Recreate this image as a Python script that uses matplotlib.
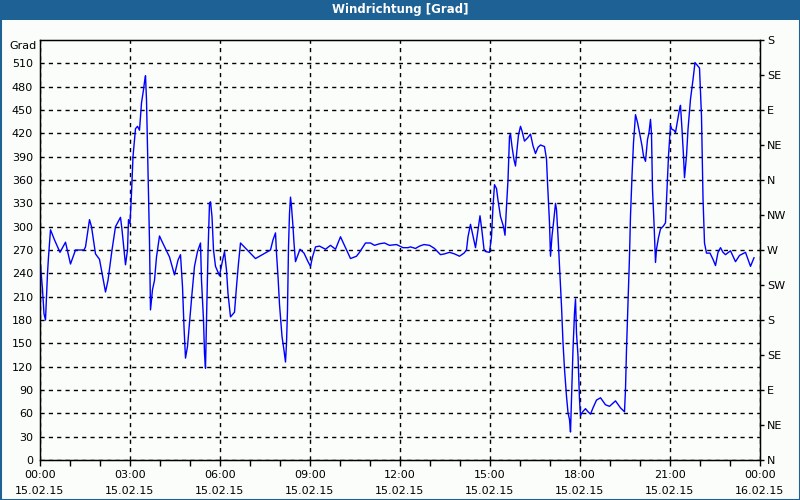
import matplotlib
matplotlib.use("Agg")
import matplotlib.pyplot as plt
from matplotlib.patches import Rectangle
import numpy as np

# time in minutes after 00:00 on 15.02.15, wind direction in degrees
minutes = [1, 5, 8, 11, 15, 17, 21, 29, 40, 51, 61, 71, 88, 91, 99, 103, 111, 119, 131, 136,
           144, 151, 161, 164, 168, 171, 175, 177, 180, 183, 186, 191, 195, 199, 203, 207, 209,
           211, 213, 215, 217, 219, 221, 225, 229, 233, 239, 244, 253, 259, 269, 276, 281, 285,
           288, 291, 295, 299, 304, 309, 315, 321, 323, 327, 329, 331, 333, 336, 339, 341, 344,
           347, 351, 359, 364, 369, 373, 376, 381, 389, 393, 397, 401, 431, 461, 466, 471, 473,
           476, 479, 484, 488, 491, 493, 495, 497, 499, 501, 503, 506, 508, 511, 516, 520, 528,
           536, 541, 545, 551, 559, 571, 581, 591, 601, 613, 621, 633, 639, 651, 661, 669, 679,
           689, 699, 713, 726, 736, 741, 751, 759, 768, 779, 789, 801, 809, 819, 829, 839, 848,
           853, 856, 861, 865, 871, 876, 880, 884, 888, 891, 899, 903, 906, 909, 913, 916, 921,
           927, 930, 933, 936, 939, 941, 944, 948, 951, 954, 957, 961, 964, 969, 975, 981, 986,
           991, 996, 1001, 1009, 1013, 1015, 1017, 1019, 1021, 1024, 1027, 1031, 1033, 1036,
           1039, 1043, 1046, 1049, 1053, 1056, 1059, 1061, 1064, 1066, 1069, 1071, 1073, 1076,
           1079, 1081, 1084, 1091, 1096, 1101, 1106, 1113, 1121, 1131, 1139, 1151, 1161, 1169,
           1171, 1173, 1176, 1179, 1181, 1184, 1187, 1191, 1195, 1199, 1204, 1207, 1211, 1215,
           1218, 1221, 1223, 1225, 1228, 1231, 1233, 1237, 1241, 1247, 1251, 1254, 1257, 1261,
           1264, 1268, 1271, 1275, 1279, 1281, 1284, 1287, 1289, 1293, 1296, 1301, 1306, 1310,
           1315, 1319, 1323, 1326, 1329, 1333, 1340, 1346, 1351, 1356, 1361, 1366, 1371, 1381,
           1391, 1399, 1411, 1421, 1428]
degrees = [251, 219, 188, 180, 240, 261, 296, 283, 267, 280, 252, 270, 270, 274, 309, 300, 265,
           258, 216, 231, 270, 300, 312, 296, 270, 251, 270, 309, 304, 343, 390, 426, 429, 424,
           459, 476, 486, 494, 463, 403, 343, 281, 193, 219, 231, 261, 288, 281, 269, 261, 238,
           257, 264, 223, 171, 131, 146, 176, 214, 249, 268, 279, 231, 180, 137, 118, 180, 266,
           330, 332, 313, 270, 249, 237, 253, 268, 244, 214, 184, 190, 223, 253, 279, 259, 270,
           283, 292, 266, 236, 200, 159, 141, 126, 150, 193, 274, 317, 338, 326, 300, 279, 255,
           264, 271, 266, 255, 249, 261, 274, 275, 271, 276, 271, 287, 270, 259, 262, 267, 279,
           279, 276, 278, 279, 276, 277, 273, 273, 274, 272, 275, 277, 276, 272, 264, 265, 267,
           265, 262, 266, 270, 287, 303, 291, 273, 296, 314, 294, 271, 268, 267, 287, 326, 354,
           349, 334, 313, 300, 289, 326, 360, 416, 419, 403, 386, 378, 399, 418, 429, 423, 410,
           414, 419, 404, 394, 402, 405, 403, 387, 357, 331, 305, 262, 288, 305, 330, 322, 288,
           249, 198, 151, 117, 82, 61, 52, 36, 99, 142, 189, 207, 163, 134, 78, 57, 61, 66, 62,
           59, 67, 77, 80, 71, 69, 76, 67, 62, 91, 142, 202, 262, 314, 365, 408, 444, 434, 421,
           404, 391, 384, 412, 421, 438, 419, 348, 305, 254, 271, 286, 297, 301, 305, 348, 391,
           430, 425, 424, 421, 436, 451, 456, 425, 391, 363, 391, 425, 464, 489, 511, 507, 504,
           442, 337, 279, 266, 266, 258, 250, 267, 273, 267, 264, 269, 255, 263, 267, 249, 260]

x_ticks = [0, 3, 6, 9, 12, 15, 18, 21, 24]
x_labels = ["00:00\n15.02.15", "03:00\n15.02.15", "06:00\n15.02.15", "09:00\n15.02.15",
            "12:00\n15.02.15", "15:00\n15.02.15", "18:00\n15.02.15", "21:00\n15.02.15",
            "00:00\n16.02.15"]
y_ticks = list(range(0, 540, 30))
compass_ticks = list(range(0, 541, 45))
compass_labels = ["N", "NE", "E", "SE", "S", "SW", "W", "NW", "N", "NE", "E", "SE", "S"]
title = "Windrichtung [Grad]"
unit = "Grad"

bg = "#fbfdfb"
bar = "#1d6195"

fig = plt.figure(figsize=(8, 5), dpi=100, facecolor=bg)
ax = fig.add_axes([40 / 800, 40 / 500, 720 / 800, 420 / 500])
ax.set_facecolor(bg)

hours = np.array(minutes) / 60.0
ax.plot(hours, degrees, color="#0000ff", lw=1.0, zorder=3)

ax.set_xlim(0, 24)
ax.set_ylim(0, 540)
ax.set_xticks(x_ticks)
ax.set_xticklabels(x_labels, fontsize=8, linespacing=1.75)
ax.set_xticks(range(0, 25), minor=True)
ax.set_yticks(y_ticks)
ax.set_yticklabels([str(v) for v in y_ticks], fontsize=8)
ax.tick_params(axis="x", which="both", direction="out", length=4, width=1, pad=3)
ax.tick_params(axis="y", which="both", length=0, pad=5)
ax.grid(True, which="major", color="black", linestyle=(0, (3, 3)), linewidth=1)
for s in ax.spines.values():
    s.set_color("black")
    s.set_linewidth(1)

ax2 = ax.twinx()
ax2.set_ylim(0, 540)
ax2.set_yticks(compass_ticks)
ax2.set_yticklabels(compass_labels, fontsize=8)
ax2.tick_params(axis="y", direction="out", length=3, width=1, pad=2)

ax.text(-0.005, 1.0 - 6 / 420, unit, transform=ax.transAxes, ha="right", va="center", fontsize=8)

# title bar and frame
fig.patches.append(Rectangle((0, 1 - 20 / 500), 1, 20 / 500, transform=fig.transFigure,
                             facecolor=bar, edgecolor="none", zorder=0))
fig.patches.append(Rectangle((0.5 / 800, 0.5 / 500), 799 / 800, 499 / 500, transform=fig.transFigure,
                             facecolor="none", edgecolor=bar, lw=1.5, zorder=1))
fig.text(0.5, 1 - 10 / 500, title, color="white", fontsize=8.5, fontweight="bold",
         ha="center", va="center")

fig.savefig("out.png", dpi=100, facecolor=bg)
